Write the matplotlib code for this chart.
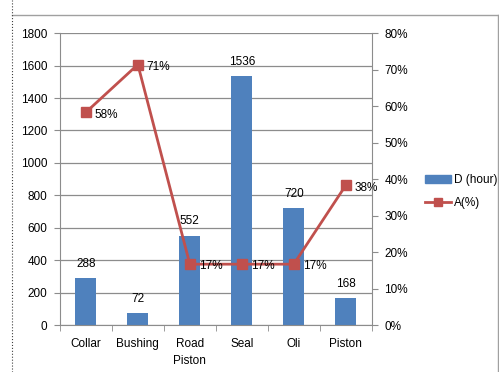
import numpy as np
import matplotlib
matplotlib.use("Agg")
import matplotlib.pyplot as plt
from matplotlib.lines import Line2D

# data
categories = ["Collar", "Bushing", "Road\nPiston", "Seal", "Oli", "Piston"]
d_hour = [288, 72, 552, 1536, 720, 168]
a_pct = [58.3, 71.4, 16.7, 16.7, 16.7, 38.3]

bar_col = "#4F81BD"
line_col = "#C0504D"
grid_col = "#8C8C8C"

plt.rcParams['font.family'] = ['Liberation Sans', 'DejaVu Sans']
plt.rcParams['font.size'] = 8.5

fig = plt.figure(figsize=(4.99, 3.72), dpi=100)
ax = fig.add_axes([0.120, 0.126, 0.625, 0.785])
ax2 = ax.twinx()

x = np.arange(len(categories))
bars = ax.bar(x, d_hour, width=0.4, color=bar_col, zorder=2)
for xi, v in zip(x, d_hour):
    ax.text(xi, v + 50, str(v), ha="center", va="bottom")

ax.set_ylim(0, 1800)
ax.set_yticks(np.arange(0, 1801, 200))
ax.set_xlim(-0.5, len(categories) - 0.5)
ax.set_xticks(x)
ax.set_xticklabels(categories, linespacing=1.6)
ax.set_xticks(np.arange(-0.5, len(categories)), minor=True)
ax.tick_params(axis="x", which="major", length=0, pad=9)
ax.tick_params(axis="x", which="minor", length=4, color=grid_col)
ax.tick_params(axis="y", length=4, color=grid_col, pad=5)
ax.grid(axis="y", color=grid_col, lw=0.9, zorder=0)
ax.set_axisbelow(True)
for s in ["top", "right"]:
    ax.spines[s].set_visible(False)
for s in ["left", "bottom"]:
    ax.spines[s].set_color(grid_col)

ax2.plot(x, a_pct, color=line_col, lw=2, marker="s", ms=6.5, zorder=3)
for xi, v in zip(x, a_pct):
    ax2.text(xi + 0.17, v - 0.6, "{:.0f}%".format(v), ha="left", va="center")
ax2.set_ylim(0, 80)
ax2.set_yticks(np.arange(0, 81, 10))
ax2.set_yticklabels(["{}%".format(t) for t in range(0, 81, 10)])
ax2.tick_params(axis="y", length=4, color=grid_col, pad=5)
for s in ["top", "left", "bottom"]:
    ax2.spines[s].set_visible(False)
ax2.spines["right"].set_color(grid_col)

handles = [plt.Rectangle((0, 0), 1, 1, color=bar_col),
           Line2D([0], [0], color=line_col, lw=2, marker="s", ms=6)]
fig.legend(handles, ["D (hour)", "A(%)"], loc="center left",
           bbox_to_anchor=(0.83, 0.485), frameon=False,
           handlelength=2.2, handletextpad=0.3, labelspacing=0.9)

# outer chart frame
fig.add_artist(Line2D([0.024, 1.0], [0.96, 0.96], color="#A0A0A0", lw=1))
fig.add_artist(Line2D([0.998, 0.998], [0.0, 0.96], color="#A0A0A0", lw=1))
fig.add_artist(Line2D([0.024, 0.024], [0.0, 1.0], color="#404040", lw=0.8, ls=":"))

fig.savefig("out.png", dpi=100)
